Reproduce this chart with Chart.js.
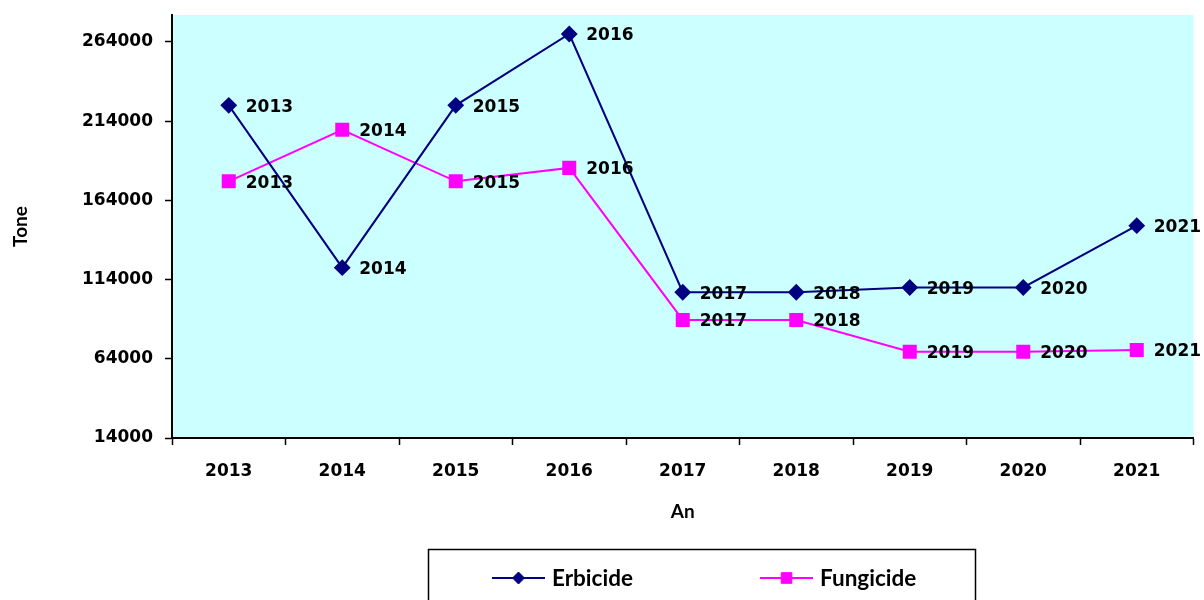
<!DOCTYPE html>
<html>
<head>
<meta charset="utf-8">
<script src="https://cdn.jsdelivr.net/npm/chart.js@4.4.1/dist/chart.umd.min.js"></script>
<style>
  html, body { margin: 0; padding: 0; background: #fff; }
  #wrap { width: 1204px; height: 600px; }
</style>
</head>
<body>
<div id="wrap"><canvas id="chart" width="1204" height="600"></canvas></div>
<script>
const years = ['2013', '2014', '2015', '2016', '2017', '2018', '2019', '2020', '2021'];
const erbicide = [224000, 121500, 224000, 269000, 106000, 106000, 109000, 109000, 148000];
const fungicide = [176000, 208500, 176000, 184500, 88500, 88500, 68500, 68500, 69500];
const yTicks = [14000, 64000, 114000, 164000, 214000, 264000];

const numFont = 'bold 17px "DejaVu Sans"';
const titleFont = { family: 'Lato', weight: 'bold', size: 19 };

// cyan plot background
const plotBg = {
    id: 'plotBg',
    beforeDraw(chart) {
        const a = chart.chartArea;
        const ctx = chart.ctx;
        ctx.save();
        ctx.fillStyle = '#CCFFFF';
        ctx.fillRect(a.left, a.top, a.right - a.left, a.bottom - a.top);
        ctx.restore();
    }
};

// year labels next to each point
const pointLabels = {
    id: 'pointLabels',
    afterDatasetsDraw(chart) {
        const ctx = chart.ctx;
        ctx.save();
        ctx.font = numFont;
        ctx.fillStyle = '#000';
        ctx.textBaseline = 'middle';
        ctx.textAlign = 'left';
        chart.data.datasets.forEach((ds, i) => {
            chart.getDatasetMeta(i).data.forEach((pt, j) => {
                ctx.fillText(chart.data.labels[j], pt.x + 17, pt.y + 2);
            });
        });
        ctx.restore();
    }
};

// boxed legend with line + marker samples
const boxLegend = {
    id: 'boxLegend',
    afterDraw(chart) {
        const ctx = chart.ctx;
        ctx.save();
        ctx.strokeStyle = '#000';
        ctx.lineWidth = 1.5;
        ctx.strokeRect(428.5, 549.5, 547, 60);
        const items = [{ x: 492, textX: 552 }, { x: 760, textX: 820 }];
        const y = 578;
        chart.data.datasets.forEach((ds, i) => {
            const it = items[i];
            ctx.strokeStyle = ds.borderColor;
            ctx.lineWidth = 2;
            ctx.beginPath();
            ctx.moveTo(it.x, y);
            ctx.lineTo(it.x + 53, y);
            ctx.stroke();
            ctx.fillStyle = ds.pointBackgroundColor;
            ctx.strokeStyle = ds.pointBorderColor;
            ctx.lineWidth = 1;
            Chart.helpers.drawPoint(ctx, {
                pointStyle: ds.pointStyle,
                radius: ds.pointRadius - 1,
                borderWidth: 1
            }, it.x + 26.5, y);
            ctx.fillStyle = '#000';
            ctx.font = 'bold 22.5px Lato';
            ctx.textBaseline = 'middle';
            ctx.fillText(ds.label, it.textX, y + 1);
        });
        ctx.restore();
    }
};

new Chart(document.getElementById('chart'), {
    type: 'line',
    data: {
        labels: years,
        datasets: [
            {
                label: 'Erbicide',
                data: erbicide,
                borderColor: '#000080',
                backgroundColor: '#000080',
                pointBackgroundColor: '#000080',
                pointBorderColor: '#000080',
                pointStyle: 'rectRot',
                pointRadius: 7,
                borderWidth: 2
            },
            {
                label: 'Fungicide',
                data: fungicide,
                borderColor: '#FF00FF',
                backgroundColor: '#FF00FF',
                pointBackgroundColor: '#FF00FF',
                pointBorderColor: '#FF00FF',
                pointStyle: 'rect',
                pointRadius: 8.5,
                borderWidth: 2
            }
        ]
    },
    options: {
        responsive: false,
        animation: false,
        layout: { padding: { top: 15, right: 1, bottom: 70, left: 0 } },
        plugins: {
            legend: { display: false },
            tooltip: { enabled: false }
        },
        scales: {
            x: {
                offset: true,
                grid: {
                    offset: true,
                    drawOnChartArea: false,
                    drawTicks: true,
                    tickLength: 7,
                    tickWidth: 1.5,
                    color: '#000'
                },
                border: { color: '#000', width: 2 },
                ticks: {
                    color: '#000',
                    font: { family: 'DejaVu Sans', weight: 'bold', size: 17 },
                    padding: 16,
                    maxRotation: 0
                },
                title: {
                    display: true,
                    text: 'An',
                    color: '#000',
                    font: titleFont,
                    padding: { top: 0, bottom: 7 }
                },
                afterFit(s) {
                    s.height = 92;
                    s.paddingLeft = 0;
                    s.paddingRight = 0;
                }
            },
            y: {
                min: 14000,
                max: 281000,
                afterBuildTicks(s) { s.ticks = yTicks.map(v => ({ value: v })); },
                grid: {
                    drawOnChartArea: false,
                    drawTicks: true,
                    tickLength: 7,
                    tickWidth: 1.5,
                    color: '#000'
                },
                border: { color: '#000', width: 2 },
                ticks: {
                    color: '#000',
                    font: { family: 'DejaVu Sans', weight: 'bold', size: 17 },
                    padding: 12,
                    callback: v => String(v)
                },
                title: {
                    display: true,
                    text: 'Tone',
                    color: '#000',
                    font: titleFont,
                    padding: { top: 9, bottom: 0 }
                },
                afterFit(s) {
                    s.width = 172;
                    s.paddingTop = 0;
                    s.paddingBottom = 0;
                }
            }
        }
    },
    plugins: [plotBg, pointLabels, boxLegend]
});
</script>
</body>
</html>
